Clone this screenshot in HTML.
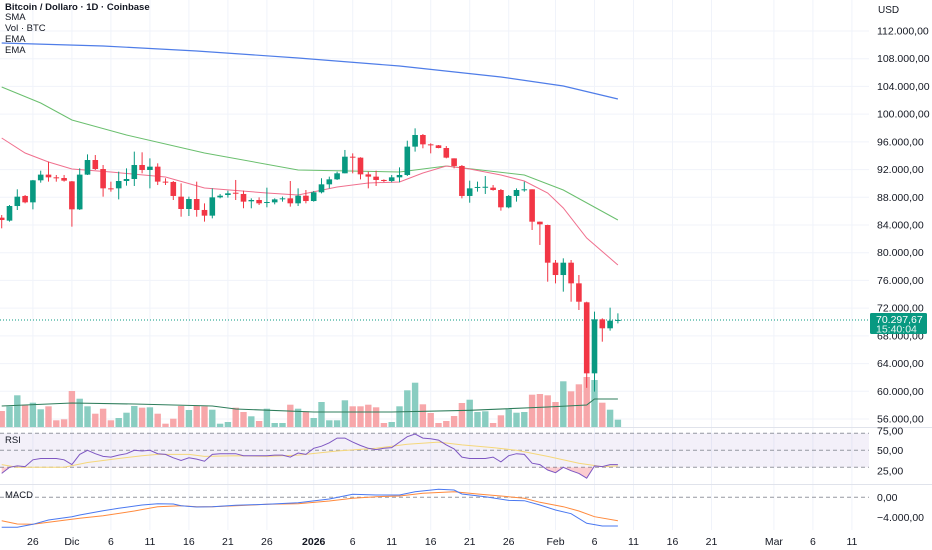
<!DOCTYPE html>
<html><head><meta charset="utf-8">
<style>
html,body{margin:0;padding:0;background:#fff;}
svg{display:block;font-family:"Liberation Sans",sans-serif;}
</style></head>
<body>
<svg id="chart" width="932" height="550" viewBox="0 0 932 550" xmlns="http://www.w3.org/2000/svg">
<rect width="932" height="550" fill="#ffffff"/>
<g id="grid"></g>
<g id="volume"></g>
<g id="mas"></g>
<g id="candles"></g>
<g id="rsi"></g>
<g id="macd"></g>
<g id="axes"></g>
</svg>
<script>
// ---- data ----
const openP = [85060,84630,86740,88190,87270,90450,91270,90880,90780,90300,
86260,91270,93380,92080,89290,89290,90350,90640,92660,91940,
92420,90260,90210,88090,86310,87750,86170,85350,87990,88330,
88660,88480,87420,87610,87220,87270,87750,87850,87130,88230,
87460,88720,89870,90590,91460,93860,93720,91310,90980,90500,
90350,90880,91220,95310,96990,95640,95500,95110,93620,92520,
88190,89390,89490,89390,89050,86550,88190,89050,89150,84480,
84000,78560,76780,78560,75580,72840,62590,70385,69090,70190];
const closeP = [84720,86740,88090,87270,90450,91270,90880,90850,90400,86260,
91270,93380,92080,89290,89250,90350,90640,92660,91940,92420,
90260,90250,88190,86310,87750,86170,85350,87990,88230,88570,
88620,87370,87610,87130,87320,87700,87850,87130,88230,87460,
88720,89870,90590,91460,93860,93720,91310,90980,90500,90350,
90880,91220,95310,96990,95640,95600,95110,93720,92520,88190,
89290,89490,89520,89050,86550,88190,89050,89150,84480,84100,
78560,76780,78560,75580,72930,62590,70385,69090,70190,70298];
const highP = [85440,86890,89150,88330,90500,91840,93140,91220,91220,90350,
92180,94200,94100,92660,90255,91700,92180,94590,94490,93620,
92900,90740,90350,90010,88090,90260,87130,89290,88480,88960,
90500,88960,87850,87990,89390,87850,88090,90350,89290,89050,
88910,90740,90980,91700,94830,94340,93770,91700,91840,90590,
91220,92320,96170,97950,97130,95790,95550,95400,93620,92660,
90400,90260,91070,89770,89200,88330,89290,90260,89150,84500,
84050,78950,79190,78950,76780,72930,71490,70530,72070,71250];
const lowP = [83520,84480,86165,87130,86260,90110,90255,90255,90260,83760,
86170,91220,91940,88090,88810,87700,89680,89630,91460,89290,
89770,89770,87610,85200,85300,85200,84480,84960,87850,87950,
87610,86410,86410,86890,86550,86980,87370,86650,86740,87130,
87370,88570,89290,90500,91460,91460,90590,89290,89630,90210,
90160,90160,91070,94590,95070,94340,95070,93620,92180,87850,
87220,88810,88480,88960,86070,86410,87370,88810,83280,81120,
75820,75580,74380,72930,71730,60500,59950,67160,68750,69800];
const volumes = [16000,20700,31700,22300,24300,17700,20700,6700,7700,36000,
28300,20700,13300,18300,6700,9000,14300,21000,19300,19700,
13300,3300,8300,21000,17000,21000,20700,17300,3300,5000,
19300,15000,10700,6000,18300,4000,4000,22300,18300,15700,
9000,25000,6700,6700,26700,20700,20700,22300,19700,4000,
5000,20700,36700,44300,22700,14000,4000,6000,11000,24000,
27300,15000,15700,4000,11700,17700,14300,15000,32300,33000,
31700,25000,45700,35700,42700,50000,47000,24300,17300,7300];
const volMaIdx = [0,9,17,27,30,40,50,60,70,75,76,79];
const volMaVal = [21000,24000,23000,21000,18000,15000,15000,16700,20000,22000,28000,28000];
const smaIdx = [0,13,25,38,51,64,72,79];
const smaVal = [110270,109835,109113,108103,106950,105360,104060,102190];
const emaSlowIdx = [0,5,9,16,26,38,51,57,67,72,79];
const emaSlowVal = [103920,101610,99160,96990,94390,91940,91650,92520,91220,89050,84720];
const emaFastIdx = [0,3,6,9,14,21,26,34,38,43,47,51,54,57,60,64,67,70,72,75,79];
const emaFastVal = [96560,94390,93090,92080,91650,90930,89340,88620,88330,89490,90060,90210,91510,92520,92080,91220,90350,88620,86450,82120,78230];
const rsiVals = [16,25,27,26,36,38,38,38,36,29,
44,50,45,41,40,43,45,50,49,50,
45,44,39,35,39,37,34,44,45,45,
45,42,42,42,42,43,43,40,46,44,
53,56,61,68,68,62,57,53,51,53,
54,62,70,74,68,67,65,58,52,40,
38,38,38,40,33,42,45,44,31,29,
21,17,25,20,16,9,27,26,29,29];
const rsiMaIdx = [0,2,8,11,15,18,20,24,26,30,34,38,43,48,52,56,59,63,66,70,74,77,79];
const rsiMaVal = [29,25,25,32,38,42,44,44,41,42,41,43,49,53,59,62,58,54,50,41,31,26,27];
const macdIdx = [0,2,4,6,9,10,13,15,18,20,22,23,25,27,30,34,38,42,45,48,51,53,56,58,59,62,65,67,69,71,73,75,77,79];
const macdVal = [-5890,-5890,-5300,-4450,-3800,-3470,-2620,-2160,-1510,-1250,-1310,-1640,-1900,-1840,-1570,-1380,-1050,-330,580,450,450,1100,1560,1430,650,120,-600,-660,-1510,-2490,-3210,-5100,-5630,-5630];
const signalIdx = [0,2,4,6,10,13,17,20,23,25,27,30,34,38,42,45,48,51,54,58,61,64,67,69,72,74,76,79];
const signalVal = [-4580,-5240,-5300,-4910,-4120,-3600,-2690,-1840,-1640,-1840,-1840,-1640,-1380,-1250,-730,-200,120,250,780,1100,650,250,-200,-990,-1840,-2690,-3800,-4580];
const priceTicks = [112000,108000,104000,100000,96000,92000,88000,84000,80000,76000,72000,68000,64000,60000,56000];
const priceTickLabels = ["112.000,00","108.000,00","104.000,00","100.000,00","96.000,00","92.000,00","88.000,00","84.000,00","80.000,00","76.000,00","72.000,00","68.000,00","64.000,00","60.000,00","56.000,00"];
const dateLabels = ["26","Dic","6","11","16","21","26","2026","6","11","16","21","26","Feb","6","11","16","21","Mar","6","11"];
const dateSlots = [4,9,14,19,24,29,34,40,45,50,55,60,65,71,76,81,86,91,99,104,109];
const lastPrice = 70297.67;
const lastPriceLabel = "70.297,67";
const countdown = "15:40:04";

// ---- scales ----
const NS = "http://www.w3.org/2000/svg";
const PLOT_R = 869;
function xS(i){ return 1.7 + i*7.8; }
function yP(p){ return 31 + (112000-p)*388/56000; }
function yV(v){ return 427 - v*0.001; }
function yR(v){ return 467.3 - (v-25)*0.68; }
function yM(v){ return 497.3 - v*0.0051; }
function el(tag, attrs, parent){
  const e = document.createElementNS(NS, tag);
  for (const k in attrs) e.setAttribute(k, attrs[k]);
  parent.appendChild(e);
  return e;
}
function pathFrom(idx, vals, ys){
  return idx.map((d,k)=>(k?"L":"M")+xS(d).toFixed(1)+" "+ys(vals[k]).toFixed(1)).join(" ");
}
const G = id => document.getElementById(id);
const GREEN = "#089981", RED = "#f23645";

// grid
const grid = G("grid");
dateSlots.forEach(s=>{
  const l = el("line",{x1:xS(s),x2:xS(s),y1:0,y2:530,stroke:"#f0f3fa","stroke-width":1},grid);
  
  
});
priceTicks.forEach(p=>{
  const l = el("line",{x1:0,x2:PLOT_R,y1:yP(p),y2:yP(p),stroke:"#f0f3fa","stroke-width":1},grid);
  
  
});

// volume
const vg = G("volume");
volumes.forEach((v,i)=>{
  const up = closeP[i] >= openP[i];
  const r = el("rect",{x:xS(i)-3.2,y:yV(v),width:6.4,height:427-yV(v),fill:up?"#89cdc1":"#f7a7aa"},vg);
  
  
});
const vma = el("path",{d:pathFrom(volMaIdx,volMaVal,yV),fill:"none",stroke:"#2e7d5b","stroke-width":1.1},vg);



// moving averages
const mg = G("mas");
const sma = el("path",{d:pathFrom(smaIdx,smaVal,yP),fill:"none",stroke:"#4f7de8","stroke-width":1.2},mg);


const ema1 = el("path",{d:pathFrom(emaSlowIdx,emaSlowVal,yP),fill:"none",stroke:"#6abf6e","stroke-width":1},mg);


const ema2 = el("path",{d:pathFrom(emaFastIdx,emaFastVal,yP),fill:"none",stroke:"#f0708e","stroke-width":1},mg);


const lp = el("line",{x1:0,x2:PLOT_R,y1:yP(lastPrice),y2:yP(lastPrice),stroke:GREEN,"stroke-width":1,"stroke-dasharray":"1 2"},mg);



// candles
const cg = G("candles");
openP.forEach((o,i)=>{
  const c = closeP[i], up = c >= o, col = up ? GREEN : RED, x = xS(i);
  const g = el("g",{},cg);
  
  
  el("line",{x1:x,x2:x,y1:yP(highP[i]),y2:yP(lowP[i]),stroke:col,"stroke-width":1},g);
  const top = Math.min(yP(o),yP(c)), h = Math.max(1,Math.abs(yP(o)-yP(c)));
  el("rect",{x:x-2.8,y:top,width:5.6,height:h,fill:col},g);
});

// RSI pane
const rg = G("rsi");
const band = el("rect",{x:0,y:yR(75),width:PLOT_R,height:yR(25)-yR(75),fill:"#7e57c2","fill-opacity":0.09},rg);


[75,50,25].forEach(v=>{
  const l = el("line",{x1:0,x2:PLOT_R,y1:yR(v),y2:yR(v),stroke:"#9598a1","stroke-width":1,"stroke-dasharray":"4 3"},rg);
  
  
});
const rsiIdx = rsiVals.map((_,i)=>i);
const defs = el("defs",{},rg);
const cp = el("clipPath",{id:"below25"},defs);
el("rect",{x:0,y:yR(25),width:PLOT_R,height:30},cp);
const rsiArea = el("path",{d:pathFrom(rsiIdx,rsiVals,yR)+" L"+xS(79)+" "+yR(25)+" L"+xS(0)+" "+yR(25)+" Z",fill:"#f23645","fill-opacity":0.25,"clip-path":"url(#below25)"},rg);


const rsiMa = el("path",{d:pathFrom(rsiMaIdx,rsiMaVal,yR),fill:"none",stroke:"#f5d77a","stroke-width":1},rg);


const rsiL = el("path",{d:pathFrom(rsiIdx,rsiVals,yR),fill:"none",stroke:"#7e57c2","stroke-width":1},rg);



// MACD pane
const mcg = G("macd");
const z = el("line",{x1:0,x2:PLOT_R,y1:yM(0),y2:yM(0),stroke:"#9598a1","stroke-width":1,"stroke-dasharray":"4 3"},mcg);


const sig = el("path",{d:pathFrom(signalIdx,signalVal,yM),fill:"none",stroke:"#ff8a3d","stroke-width":1},mcg);


const mac = el("path",{d:pathFrom(macdIdx,macdVal,yM),fill:"none",stroke:"#4a78f0","stroke-width":1},mcg);



// axes, separators, labels
const ag = G("axes");
[427.5,484.5].forEach(y=>{
  const l = el("line",{x1:0,x2:932,y1:y,y2:y,stroke:"#e0e3eb","stroke-width":1},ag);
  
  
});
priceTicks.forEach((p,k)=>{
  const t = el("text",{x:877,y:yP(p)+3.5,"font-size":"10.5",fill:"#131722"},ag);
  t.textContent = priceTickLabels[k];
  
  
});
const usd = el("text",{x:878,y:13,"font-size":"10",fill:"#131722"},ag);
usd.textContent = "USD";


const tag = el("g",{},ag);


el("rect",{x:870,y:yP(lastPrice)-7,width:57,height:21,rx:1.5,fill:GREEN},tag);
const t1 = el("text",{x:876,y:yP(lastPrice)+3,"font-size":"10.5",fill:"#fff"},tag); t1.textContent = lastPriceLabel;
const t2 = el("text",{x:876,y:yP(lastPrice)+12.5,"font-size":"10.5",fill:"#e6f5f1"},tag); t2.textContent = countdown;
[["75,00",yR(75)+1],["50,00",yR(50)+3.5],["25,00",yR(25)+7]].forEach(a=>{
  const t = el("text",{x:877,y:a[1],"font-size":"10.5",fill:"#131722"},ag);
  t.textContent = a[0];
  
  
});
[["0,00",yM(0)+3.5],["−4.000,00",yM(-4000)+3.5]].forEach(a=>{
  const t = el("text",{x:877,y:a[1],"font-size":"10.5",fill:"#131722"},ag);
  t.textContent = a[0];
  
  
});
dateLabels.forEach((s,k)=>{
  const t = el("text",{x:xS(dateSlots[k]),y:545,"font-size":"10.5","text-anchor":"middle",fill:"#131722","font-weight":s==="2026"?"bold":"normal"},ag);
  t.textContent = s;
  
  
});
// legend
const legend = [["Bitcoin / Dollaro · 1D · Coinbase",true,"chart-title"],["SMA",false,"legend-sma"],["Vol · BTC",false,"legend-volume"],["EMA",false,"legend-ema-1"],["EMA",false,"legend-ema-2"]];
legend.forEach((a,k)=>{
  const t = el("text",{x:5,y:12+k*11 - (k?3:2),"font-size":"9.5",fill:"#131722","font-weight":a[1]?"bold":"normal"},ag);
  t.textContent = a[0];
  
  
});
const rl = el("text",{x:5,y:443,"font-size":"9.5",fill:"#131722"},ag); rl.textContent="RSI";


const ml = el("text",{x:5,y:498,"font-size":"9.5",fill:"#131722"},ag); ml.textContent="MACD";


</script>
</body></html>
